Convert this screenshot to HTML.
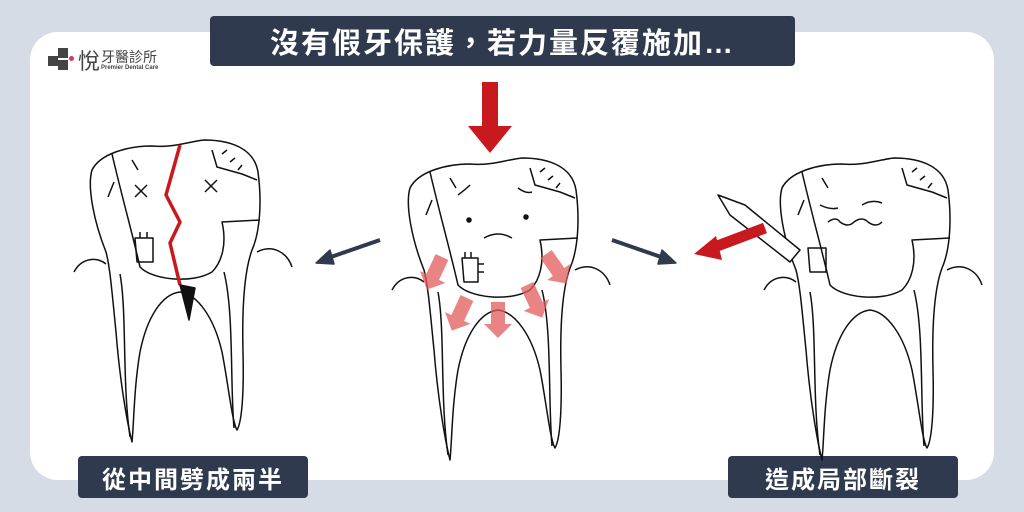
<!DOCTYPE html>
<html><head><meta charset="utf-8"><style>
body{margin:0;width:1024px;height:512px;background:#d6dce6;overflow:hidden;position:relative;font-family:"Liberation Sans","Noto Sans CJK TC",sans-serif}
.card{position:absolute;left:30px;top:32px;width:964px;height:448px;background:#fff;border-radius:28px}
.box{position:absolute;background:#2f3a4e;color:#fff;font-weight:bold;display:flex;align-items:center;justify-content:center;border-radius:4px}
</style></head><body>
<div class="card"></div>
<div class="box" style="left:210px;top:16px;width:585px;height:50px;font-size:29px;letter-spacing:2px">沒有假牙保護，若力量反覆施加…</div>
<div class="box" style="left:78px;top:456px;width:230px;height:42px;font-size:24px;letter-spacing:2px">從中間劈成兩半</div>
<div class="box" style="left:728px;top:456px;width:230px;height:42px;font-size:24px;letter-spacing:2px">造成局部斷裂</div>
<div style="position:absolute;left:48px;top:46px;width:30px;height:28px">
<div style="position:absolute;left:0;top:10px;width:10px;height:10px;background:#444"></div>
<div style="position:absolute;left:10px;top:2px;width:10px;height:10px;background:#444"></div>
<div style="position:absolute;left:10px;top:14px;width:10px;height:10px;background:#444"></div>
<div style="position:absolute;left:21px;top:10px;width:5px;height:5px;background:#e0306a;border-radius:50%"></div>
</div>
<div style="position:absolute;left:78px;top:44px;font-size:22px;color:#444">悅</div>
<div style="position:absolute;left:101px;top:47px;font-size:14px;color:#444">牙醫診所</div>
<div style="position:absolute;left:101px;top:65px;font-size:6px;color:#444;font-weight:bold">Premier Dental Care</div>
<svg width="1024" height="512" style="position:absolute;left:0;top:0" fill="none" stroke="#111" stroke-width="1.5" stroke-linejoin="round">
<defs>
<g id="tooth">
<path d="M424,270 C412,240 405,205 410,188 C418,172 445,164 470,164 C490,166 505,160 522,158 C548,158 572,166 576,190 C580,220 578,250 570,268 C562,290 560,330 561,370 C562,410 560,440 555,448 C550,440 546,400 540,370 C532,335 515,312 498,310 C480,312 465,335 458,370 C452,405 452,440 450,460 C445,440 438,400 434,350 C430,310 428,285 424,270 Z" fill="#fff"/>
<path d="M430,172 C440,215 450,250 458,285 C470,298 510,302 530,290 C540,280 545,262 540,240 L578,238"/>
<path d="M438,292 C445,330 440,400 448,455 M542,290 C552,330 548,400 552,446"/>
<path d="M392,290 C400,275 415,275 424,282 M575,270 C590,262 605,270 610,285"/>
<path d="M530,168 L535,185 L560,192 L575,198 M540,172l5,-4 M548,180l5,-4 M556,188l4,-5 M432,200l-6,15 M450,178l6,10"/>
</g>
<g id="pa"><path d="M-7,0 L7,0 L7,22 L14,22 L0,36 L-14,22 L-7,22 Z" fill="#e35b5b" fill-opacity="0.75" stroke="none"/></g>
</defs>
<use href="#tooth"/>
<path d="M462,258 l16,0 l0,24 l-14,0 z M465,258v-6 M471,258v-6 M478,264h6 M478,272h6"/>
<path d="M458,195 q8,-6 12,-10 M518,188 q8,6 14,4 M484,238 q14,-8 28,0"/>
<circle cx="469" cy="220" r="2" fill="#111"/><circle cx="526" cy="217" r="2" fill="#111"/>
<use href="#pa" transform="translate(442,257) rotate(25)"/>
<use href="#pa" transform="translate(467,298) rotate(25)"/>
<use href="#pa" transform="translate(498,302)"/>
<use href="#pa" transform="translate(527,285) rotate(-25)"/>
<use href="#pa" transform="translate(546,254) rotate(-35)"/>
<use href="#tooth" transform="translate(-318,-18)"/>
<path d="M135,238 l18,0 l0,24 l-16,0 z M140,238v-6 M147,238v-6" />
<path d="M135,185 l12,12 M147,185 l-12,12 M205,180 l12,12 M217,180 l-12,12"/>
<path d="M180,145 L166,195 L180,222 L170,243 L180,285" stroke="#c8191e" stroke-width="3.5"/>
<path d="M180,285 L195,288 L189,320 Z" fill="#111"/>
<use href="#tooth" transform="translate(372,0)"/>
<path d="M808,248 l18,0 l0,24 l-16,0 z"/>
<path d="M820,205 q10,5 18,3 M862,205 q10,-6 20,-2 M828,222 q8,-6 12,0 q8,6 14,0 q8,-6 14,0 q8,6 14,0"/>
<path d="M718,195 L745,205 L800,250 L790,262 L730,215 Z" fill="#fff"/>
<path d="M765,228 L712,248" stroke="#c8191e" stroke-width="11"/>
<path d="M694,254 L716,236 L722,260 Z" fill="#c8191e" stroke="none"/>
<path d="M482,82 L498,82 L498,126 L512,126 L490,153 L468,126 L482,126 Z" fill="#c8191e" stroke="none"/>
<path d="M380,240 L328,258" stroke="#2f3a4e" stroke-width="4"/>
<path d="M316,263 L330,250 L334,264 Z" fill="#2f3a4e" stroke="#2f3a4e"/>
<path d="M612,240 L664,258" stroke="#2f3a4e" stroke-width="4"/>
<path d="M676,263 L662,250 L658,264 Z" fill="#2f3a4e" stroke="#2f3a4e"/>
</svg>
</body></html>
